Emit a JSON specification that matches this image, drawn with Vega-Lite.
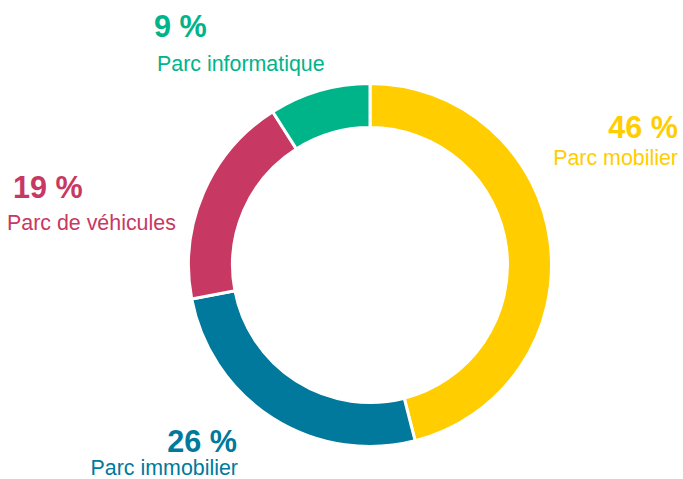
{
  "$schema": "https://vega.github.io/schema/vega-lite/v6.json",
  "width": 626,
  "height": 428,
  "padding": {"left": 57, "top": 51, "right": 0, "bottom": 0},
  "autosize": {"type": "none"},
  "background": "white",
  "view": {"stroke": null},
  "data": {
    "values": [
      {"nom": "Parc mobilier", "valeur": 46, "etiquette": "46 %", "ordre": 1},
      {"nom": "Parc immobilier", "valeur": 26, "etiquette": "26 %", "ordre": 2},
      {"nom": "Parc de véhicules", "valeur": 19, "etiquette": "19 %", "ordre": 3},
      {"nom": "Parc informatique", "valeur": 9, "etiquette": "9 %", "ordre": 4}
    ]
  },
  "encoding": {
    "theta": {"field": "valeur", "type": "quantitative", "stack": true},
    "order": {"field": "ordre", "type": "quantitative"},
    "color": {
      "field": "nom",
      "type": "nominal",
      "legend": null,
      "scale": {
        "domain": ["Parc mobilier", "Parc immobilier", "Parc de véhicules", "Parc informatique"],
        "range": ["#FFCD00", "#00799C", "#C73862", "#00B48A"]
      }
    }
  },
  "layer": [
    {"mark": {"type": "arc", "outerRadius": 181.5, "innerRadius": 137.5, "stroke": "white", "strokeWidth": 3}},
    {
      "mark": {"type": "text", "radius": 180, "align": "right", "baseline": "alphabetic", "dx": 129.4, "dy": -104.4, "font": "Liberation Sans", "fontSize": 30.6, "fontWeight": "bold"},
      "encoding": {"text": {"condition": {"test": "datum.nom === 'Parc mobilier'", "field": "etiquette"}, "value": ""}}
    },
    {
      "mark": {"type": "text", "radius": 180, "align": "right", "baseline": "alphabetic", "dx": 129.4, "dy": -77.4, "font": "Liberation Sans", "fontSize": 21.4},
      "encoding": {"text": {"condition": {"test": "datum.nom === 'Parc mobilier'", "field": "nom"}, "value": ""}}
    },
    {
      "mark": {"type": "text", "radius": 180, "align": "right", "baseline": "alphabetic", "dx": -36.6, "dy": 35, "font": "Liberation Sans", "fontSize": 30.6, "fontWeight": "bold"},
      "encoding": {"text": {"condition": {"test": "datum.nom === 'Parc immobilier'", "field": "etiquette"}, "value": ""}}
    },
    {
      "mark": {"type": "text", "radius": 180, "align": "right", "baseline": "alphabetic", "dx": -35.6, "dy": 58, "font": "Liberation Sans", "fontSize": 21.4},
      "encoding": {"text": {"condition": {"test": "datum.nom === 'Parc immobilier'", "field": "nom"}, "value": ""}}
    },
    {
      "mark": {"type": "text", "radius": 180, "align": "left", "baseline": "alphabetic", "dx": -191.8, "dy": 4.5, "font": "Liberation Sans", "fontSize": 30.6, "fontWeight": "bold"},
      "encoding": {"text": {"condition": {"test": "datum.nom === 'Parc de véhicules'", "field": "etiquette"}, "value": ""}}
    },
    {
      "mark": {"type": "text", "radius": 180, "align": "left", "baseline": "alphabetic", "dx": -197.8, "dy": 36.5, "font": "Liberation Sans", "fontSize": 21.4},
      "encoding": {"text": {"condition": {"test": "datum.nom === 'Parc de véhicules'", "field": "nom"}, "value": ""}}
    },
    {
      "mark": {"type": "text", "radius": 180, "align": "left", "baseline": "alphabetic", "dx": -165.8, "dy": -55.1, "font": "Liberation Sans", "fontSize": 30.6, "fontWeight": "bold"},
      "encoding": {"text": {"condition": {"test": "datum.nom === 'Parc informatique'", "field": "etiquette"}, "value": ""}}
    },
    {
      "mark": {"type": "text", "radius": 180, "align": "left", "baseline": "alphabetic", "dx": -162.8, "dy": -21.1, "font": "Liberation Sans", "fontSize": 21.4},
      "encoding": {"text": {"condition": {"test": "datum.nom === 'Parc informatique'", "field": "nom"}, "value": ""}}
    }
  ]
}
